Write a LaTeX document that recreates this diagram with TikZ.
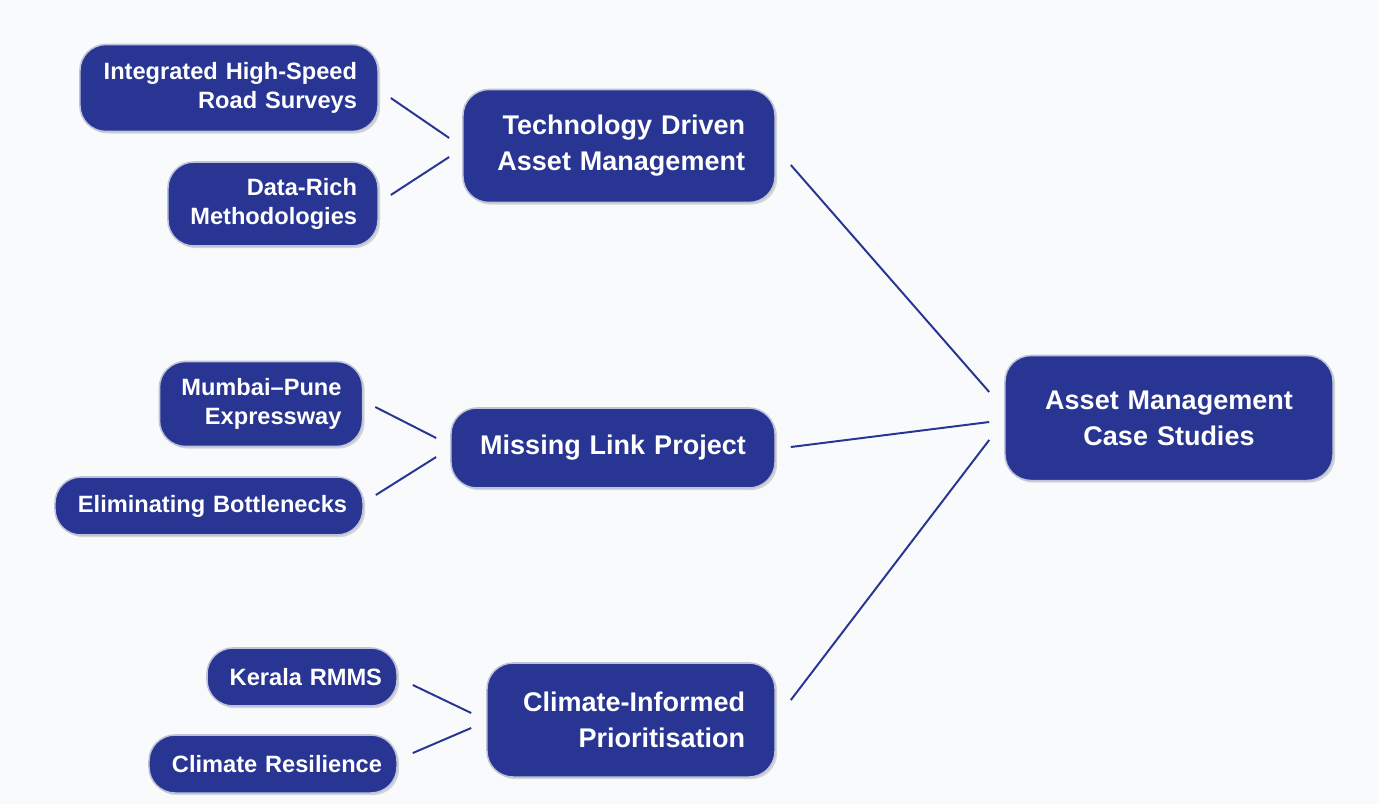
\documentclass[tikz,border=0pt]{standalone}
\usepackage{fontspec}
\setmainfont{Liberation Sans}
\usetikzlibrary{calc,shadows}
\definecolor{boxblue}{RGB}{40,53,147}
\definecolor{boxedge}{RGB}{190,195,215}
\definecolor{pagebg}{RGB}{249,250,252}
\begin{document}
\begin{tikzpicture}[x=0.025cm, y=-0.025cm,
    box/.style={rectangle, rounded corners=0.65cm, fill=boxblue, draw=boxedge, line width=1.1pt,
      text=white, font=\bfseries\fontsize{16.8}{21}\selectfont, align=right, inner xsep=0.525cm,
      inner ysep=2pt, drop shadow={shadow xshift=1.5pt, shadow yshift=-1.5pt, opacity=0.3}},
    bigbox/.style={box, font=\bfseries\fontsize{19.2}{25.5}\selectfont, inner xsep=0.75cm},
    link/.style={draw=boxblue, line width=1.4pt}]
    \fill[pagebg] (0,0) rectangle (1379,804);

    \node[box, text width=6.4cm, minimum height=2.175cm] (ihs) at (229,88) {Integrated High-Speed\\Road Surveys};
    \node[box, text width=4.2cm, minimum height=2.1cm] (drm) at (273,204) {Data-Rich\\Methodologies};
    \node[bigbox, text width=6.3cm, minimum height=2.825cm] (tdam) at (619,146) {Technology Driven\\Asset Management};

    \node[box, text width=4.025cm, minimum height=2.125cm] (mp) at (261,404) {Mumbai--Pune\\Expressway};
    \node[box, inner xsep=0.4cm, text width=6.9cm, minimum height=1.45cm] (eb) at (209,506) {Eliminating Bottlenecks};
    \node[bigbox, align=center, inner xsep=0.3cm, text width=7.5cm, minimum height=2cm] (mlp) at (613,448) {Missing Link Project};

    \node[box, inner xsep=0.375cm, text width=4cm, minimum height=1.45cm] (kr) at (302,677) {Kerala RMMS};
    \node[box, inner xsep=0.375cm, text width=5.45cm, minimum height=1.45cm] (cr) at (273,764) {Climate Resilience};
    \node[bigbox, text width=5.7cm, minimum height=2.85cm] (cip) at (631,720) {Climate-Informed\\Prioritisation};

    \node[bigbox, align=center, inner xsep=0.25cm, text width=7.7cm, minimum height=3.125cm] (amcs) at (1169,418) {Asset Management\\Case Studies};

    \draw[link] ($(ihs.east)+(12,10)$) -- ($(tdam.west)+(-13,-8)$);
    \draw[link] ($(drm.east)+(12,-9)$) -- ($(tdam.west)+(-13,11)$);
    \draw[link] ($(mp.east)+(12,3)$) -- ($(mlp.west)+(-14,-10)$);
    \draw[link] ($(eb.east)+(12,-11)$) -- ($(mlp.west)+(-14,9)$);
    \draw[link] ($(kr.east)+(15,8)$) -- ($(cip.west)+(-15,-7)$);
    \draw[link] ($(cr.east)+(15,-11)$) -- ($(cip.west)+(-15,8)$);

    \draw[link] ($(tdam.east)+(15,19)$) -- ($(amcs.west)+(-15,-26)$);
    \draw[link] ($(mlp.east)+(15,-1)$) -- ($(amcs.west)+(-15,4)$);
    \draw[link] ($(cip.east)+(15,-20)$) -- ($(amcs.west)+(-15,22)$);
\end{tikzpicture}
\end{document}
